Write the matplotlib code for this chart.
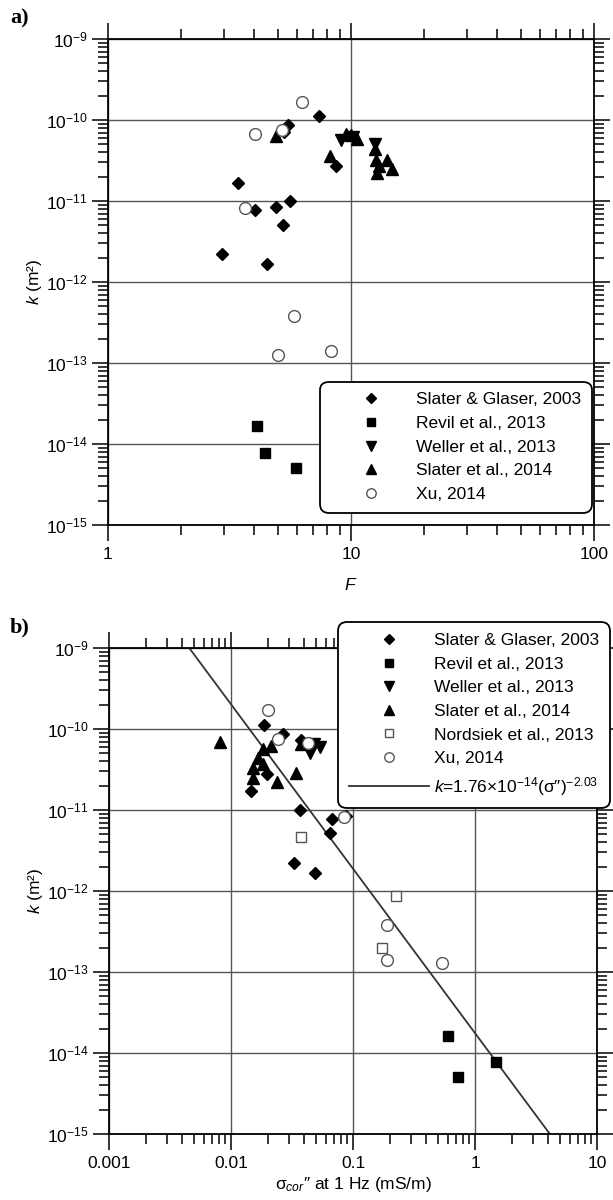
import numpy as np
import matplotlib
matplotlib.use('Agg')
import matplotlib.pyplot as plt
from matplotlib.ticker import LogLocator, FixedLocator, FixedFormatter, NullFormatter

plt.rcParams['font.family'] = ['Liberation Sans', 'DejaVu Sans']
plt.rcParams['mathtext.fontset'] = 'custom'
plt.rcParams['mathtext.rm'] = 'Liberation Sans'
plt.rcParams['mathtext.it'] = 'Liberation Sans:italic'
plt.rcParams['mathtext.default'] = 'regular'

# ---- panel a: k vs formation factor F ----
sg_F = [7.4, 5.5, 5.3, 8.7, 3.44, 5.63, 4.03, 4.9, 5.27, 2.94, 4.5]
sg_k = [1.12e-10, 8.6e-11, 7.2e-11, 2.73e-11, 1.68e-11, 9.9e-12, 7.75e-12, 8.4e-12, 5.06e-12, 2.22e-12, 1.67e-12]
rv_F = [4.1, 4.43, 5.94]
rv_k = [1.65e-14, 7.8e-15, 5.0e-15]
we_F = [9.1, 10.2, 12.6]
we_k = [5.66e-11, 6.1e-11, 5.0e-11]
sl_F = [4.93, 9.5, 10.0, 10.6, 8.2, 12.5, 12.7, 14.0, 13.0, 12.8, 14.7]
sl_k = [6.3e-11, 6.7e-11, 6.5e-11, 5.8e-11, 3.6e-11, 4.4e-11, 3.2e-11, 3.2e-11, 2.7e-11, 2.2e-11, 2.46e-11]
xu_F = [6.3, 4.03, 5.18, 3.66, 5.84, 4.99, 8.25]
xu_k = [1.68e-10, 6.65e-11, 7.5e-11, 8.3e-12, 3.8e-13, 1.27e-13, 1.41e-13]

# ---- panel b: k vs sigma'' at 1 Hz ----
sg_s = [0.0186, 0.0265, 0.0372, 0.0196, 0.0146, 0.0368, 0.0668, 0.0869, 0.0652, 0.033, 0.0489]
sg_kb = [1.12e-10, 8.67e-11, 7.3e-11, 2.78e-11, 1.73e-11, 1.0e-11, 7.75e-12, 8.5e-12, 5.15e-12, 2.2e-12, 1.68e-12]
rv_s = [0.596, 1.476, 0.72]
rv_kb = [1.62e-14, 7.74e-15, 5.0e-15]
we_s = [0.0445, 0.0482, 0.0537]
we_kb = [5.1e-11, 6.5e-11, 6.0e-11]
sl_s = [0.00818, 0.0211, 0.01815, 0.0168, 0.0184, 0.01503, 0.0152, 0.0237, 0.0341, 0.0372]
sl_kb = [6.9e-11, 6.2e-11, 5.6e-11, 4.35e-11, 3.7e-11, 3.27e-11, 2.46e-11, 2.24e-11, 2.84e-11, 6.6e-11]
no_s = [0.0375, 0.225, 0.173]
no_kb = [4.68e-12, 8.67e-13, 1.96e-13]
xu_s = [0.0202, 0.0245, 0.0425, 0.085, 0.189, 0.189, 0.532]
xu_kb = [1.72e-10, 7.47e-11, 6.65e-11, 8.26e-12, 3.8e-13, 1.4e-13, 1.28e-13]

fit_a = 1.76e-14
fit_b = -2.03

fs = 12.5
gray = '#555555'

fig = plt.figure(figsize=(6.13, 12), dpi=100)
ax1 = fig.add_axes([108/613, 1-525/1200, 486/613, 486/1200])
ax2 = fig.add_axes([109/613, 1-1134/1200, 488/613, 486/1200])


def style_axis(ax, xlim, xticks, xlabels):
    ax.set_xscale('log')
    ax.set_yscale('log')
    ax.set_xlim(*xlim)
    ax.set_ylim(1e-15, 1e-9)
    ax.xaxis.set_major_locator(FixedLocator(xticks))
    ax.xaxis.set_major_formatter(FixedFormatter(xlabels))
    ax.xaxis.set_minor_locator(LogLocator(base=10, subs=np.arange(2, 10), numticks=100))
    ax.xaxis.set_minor_formatter(NullFormatter())
    ax.yaxis.set_major_locator(LogLocator(base=10, numticks=100))
    ax.yaxis.set_minor_locator(LogLocator(base=10, subs=np.arange(2, 10), numticks=100))
    ax.yaxis.set_minor_formatter(NullFormatter())
    ax.tick_params(which='both', direction='out', top=True, right=True,
                   width=1.1, labelsize=fs)
    ax.tick_params(which='major', length=11.5)
    ax.tick_params(which='minor', length=7)
    ax.tick_params(axis='x', which='major', pad=4)
    ax.tick_params(axis='y', which='major', pad=3)
    for sp in ax.spines.values():
        sp.set_linewidth(1.3)
    ax.grid(which='major', color=gray, lw=1.0)
    ax.set_axisbelow(True)


def plot_points(ax, sets):
    for x, y, m, ms, fc, ec, lab in sets:
        ax.plot(x, y, linestyle='none', marker=m, markersize=ms, mfc=fc, mec=ec,
                mew=1.0, label=lab, zorder=3)


leg_kw = dict(fontsize=fs, handlelength=4.6, handletextpad=0.3, borderpad=0.62,
              labelspacing=0.49, borderaxespad=0, framealpha=1, fancybox=True,
              edgecolor='black', markerscale=0.8)

style_axis(ax1, (1, 100), [1, 10, 100], ['1', '10', '100'])
plot_points(ax1, [
    (sg_F, sg_k, 'D', 6.5, 'black', 'black', 'Slater & Glaser, 2003'),
    (rv_F, rv_k, 's', 6.5, 'black', 'black', 'Revil et al., 2013'),
    (we_F, we_k, 'v', 8.5, 'black', 'black', 'Weller et al., 2013'),
    (sl_F, sl_k, '^', 8.5, 'black', 'black', 'Slater et al., 2014'),
    (xu_F, xu_k, 'o', 8.5, 'white', gray, 'Xu, 2014'),
])
ax1.set_xlabel(r'$\mathit{F}$', fontsize=fs)
ax1.xaxis.set_label_coords(0.5, -0.108)
ax1.set_ylabel(r'$\mathit{k}$ (m²)', fontsize=fs)
ax1.yaxis.set_label_coords(-0.132, 0.5)

leg1 = ax1.legend(loc='lower right', bbox_to_anchor=(0.996, 0.025), **leg_kw)
leg1.get_frame().set_linewidth(1.3)
leg1.get_frame().set_boxstyle('round,pad=0,rounding_size=0.5')

style_axis(ax2, (1e-3, 10), [1e-3, 1e-2, 1e-1, 1, 10], ['0.001', '0.01', '0.1', '1', '10'])
plot_points(ax2, [
    (sg_s, sg_kb, 'D', 6.5, 'black', 'black', 'Slater & Glaser, 2003'),
    (rv_s, rv_kb, 's', 6.5, 'black', 'black', 'Revil et al., 2013'),
    (we_s, we_kb, 'v', 8.5, 'black', 'black', 'Weller et al., 2013'),
    (sl_s, sl_kb, '^', 8.5, 'black', 'black', 'Slater et al., 2014'),
    (no_s, no_kb, 's', 6.5, 'white', gray, 'Nordsiek et al., 2013'),
    (xu_s, xu_kb, 'o', 8.5, 'white', gray, 'Xu, 2014'),
])
xs = np.logspace(-3, 1, 200)
ax2.plot(xs, fit_a * xs ** fit_b, color='#333333', lw=1.3, zorder=2,
         label=r'$\mathit{k}$=1.76$\times$10$^{-14}$($\sigma$″)$^{-2.03}$')
ax2.set_xlabel(r'$\sigma_{\mathit{cor}}$″ at 1 Hz (mS/m)', fontsize=fs)
ax2.xaxis.set_label_coords(0.5, -0.085)
ax2.set_ylabel(r'$\mathit{k}$ (m²)', fontsize=fs)
ax2.yaxis.set_label_coords(-0.132, 0.5)

leg2 = ax2.legend(loc='upper left', bbox_to_anchor=(338/613, 1-622/1200),
                  bbox_transform=fig.transFigure, **leg_kw)
leg2.get_frame().set_linewidth(1.3)
leg2.get_frame().set_boxstyle('round,pad=0,rounding_size=0.5')

fig.text(10/613, 1-18/1200, 'a)', family='Liberation Serif', weight='bold',
         fontsize=16, va='center', ha='left')
fig.text(10/613, 1-627/1200, 'b)', family='Liberation Serif', weight='bold',
         fontsize=16, va='center', ha='left')

fig.savefig('out.png', dpi=100)
